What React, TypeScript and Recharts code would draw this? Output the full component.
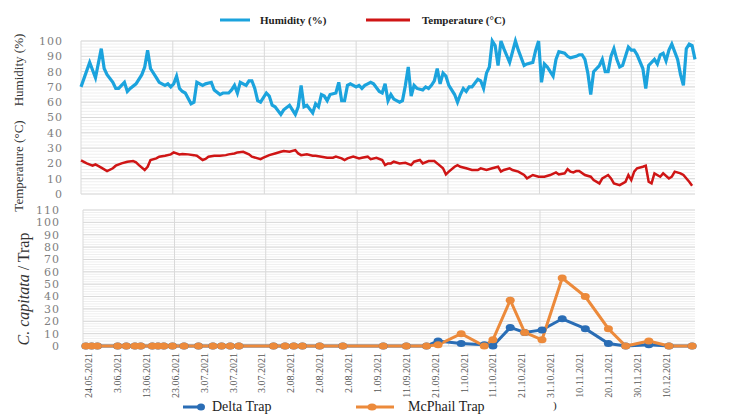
import { LineChart, Line, XAxis, YAxis, CartesianGrid } from 'recharts';

// day index counted from 24.05.2021, value
const humidityReadings: [number, number][] = [
  [-2, 70], [1, 86], [3, 76], [5, 95], [6, 82], [7, 78], [9, 73], [10, 69], [11, 69], [13, 73],
  [14, 67], [15, 69], [17, 72], [19, 78], [20, 83], [21, 94], [22, 82], [24, 76], [25, 73], [27, 71],
  [28, 72], [29, 70], [30, 72], [31, 77], [32, 69], [33, 67], [34, 66], [36, 59], [37, 60], [38, 73],
  [40, 71], [41, 72], [43, 73], [44, 68], [46, 65], [47, 66], [49, 66], [50, 68], [51, 71], [52, 66],
  [53, 73], [55, 71], [56, 74], [57, 74], [58, 69], [59, 61], [60, 60], [62, 66], [63, 64], [64, 58],
  [65, 57], [67, 52], [68, 55], [70, 58], [71, 55], [72, 52], [73, 57], [74, 71], [75, 57], [76, 58],
  [78, 53], [79, 59], [80, 57], [81, 65], [82, 64], [83, 61], [84, 65], [86, 66], [87, 73], [88, 61],
  [89, 61], [90, 71], [91, 72], [93, 70], [94, 71], [95, 69], [96, 71], [97, 72], [98, 73], [99, 72],
  [101, 67], [102, 66], [103, 72], [104, 61], [105, 65], [106, 62], [108, 60], [109, 61], [110, 71], [111, 83],
  [112, 64], [113, 71], [114, 69], [116, 68], [117, 70], [118, 69], [119, 71], [120, 74], [121, 82], [122, 72],
  [123, 79], [124, 77], [125, 71], [127, 65], [128, 60], [129, 65], [130, 69], [131, 67], [132, 70], [133, 70],
  [135, 75], [136, 74], [137, 69], [138, 79], [139, 83], [140, 100], [141, 97], [142, 84], [143, 100], [144, 95],
  [146, 86], [147, 93], [148, 100], [149, 94], [150, 89], [151, 84], [152, 85], [154, 86], [155, 94], [156, 100],
  [157, 73], [158, 85], [159, 83], [161, 77], [162, 88], [163, 93], [165, 92], [166, 90], [167, 89], [169, 90],
  [170, 91], [171, 91], [172, 88], [173, 79], [174, 65], [175, 80], [177, 84], [178, 88], [179, 80], [180, 80],
  [181, 90], [182, 95], [183, 88], [184, 83], [185, 84], [186, 90], [187, 96], [188, 94], [189, 94], [190, 91],
  [192, 82], [193, 69], [194, 84], [196, 88], [197, 85], [198, 91], [199, 92], [200, 87], [201, 94], [202, 98],
  [204, 88], [205, 78], [206, 71], [207, 95], [208, 98], [209, 97], [210, 88],
];

const temperatureReadings: [number, number][] = [
  [-2, 22], [0, 20], [2, 18.5], [3, 19.4], [5, 17.2], [7, 15], [9, 16.8], [10, 18.5], [12, 20], [14, 21.1],
  [16, 21.5], [17, 20.7], [18, 18.9], [20, 15.7], [21, 17.8], [22, 22.2], [24, 23.3], [25, 24.4], [27, 25], [29, 25.9],
  [30, 27.2], [32, 25.9], [33, 26.1], [35, 25.9], [37, 25.4], [38, 25], [40, 22.2], [41, 22.9], [42, 24.4], [44, 25],
  [46, 25], [48, 25.4], [49, 25.9], [51, 26.5], [52, 27.2], [54, 27.6], [56, 25.9], [57, 24.4], [60, 22.8], [61, 23.7],
  [63, 25.4], [65, 26.5], [67, 27.6], [68, 28.1], [70, 27.6], [72, 28.7], [73, 26.5], [74, 25.4], [76, 25.9], [78, 25],
  [79, 25], [81, 24.4], [83, 23.7], [85, 23.7], [86, 24.4], [88, 23.3], [89, 22.2], [90, 23.3], [92, 24.4], [94, 23.3],
  [95, 23.7], [97, 24.4], [98, 22.8], [100, 23.7], [102, 22.2], [103, 18.9], [104, 20], [105, 20], [106, 21.1], [108, 20],
  [110, 20.4], [112, 18.9], [113, 21.1], [115, 22.2], [116, 20], [118, 21.5], [120, 21.5], [121, 20], [123, 16.8], [124, 12.8],
  [125, 14.6], [127, 17.8], [128, 18.9], [129, 17.8], [131, 16.8], [133, 15.7], [135, 15.7], [136, 16.8], [138, 15.7], [140, 16.8],
  [142, 17.8], [143, 14.6], [144, 15.7], [146, 16.8], [147, 15.7], [149, 14.6], [151, 12.4], [152, 10.2], [154, 12.4], [156, 11.3],
  [158, 11.3], [160, 12.4], [162, 14.1], [163, 12.8], [165, 13.5], [166, 16.3], [167, 14.6], [168, 14.1], [169, 15], [170, 15],
  [172, 12.4], [174, 11.3], [175, 9.1], [177, 6.9], [178, 10.2], [180, 12.4], [181, 10.2], [182, 6.9], [184, 5.8], [186, 8],
  [187, 12.4], [188, 9.1], [189, 14.6], [190, 16.8], [192, 17.8], [193, 18.5], [194, 8], [195, 6.9], [196, 13.5], [198, 11.3],
  [199, 13.5], [201, 10.2], [202, 11.3], [203, 14.6], [205, 13.5], [206, 12.4], [208, 8], [209, 5.4],
];

const trapDays = [
  -1, 1, 3, 10, 13, 16, 18, 22, 24, 26, 29, 33, 38, 43, 46, 49, 52, 64, 68, 71,
  74, 80, 88, 102, 110, 117, 121, 129, 137, 140, 146, 151, 157, 164, 172, 180, 186, 194, 201, 209,
];
const deltaTrap = [
  0, 0, 0, 0, 0, 0, 0, 0, 0, 0, 0, 0, 0, 0, 0, 0, 0, 0, 0, 0,
  0, 0, 0, 0, 0, 0, 4, 2, 1, 0, 15, 11, 13, 22, 14, 2, 0, 1, 0, 0,
];
const mcphailTrap = [
  0, 0, 0, 0, 0, 0, 0, 0, 0, 0, 0, 0, 0, 0, 0, 0, 0, 0, 0, 0,
  0, 0, 0, 0, 0, 0, 1, 10, 0, 5, 37, 11, 5, 55, 40, 14, 0, 4, 0, 0,
];

const dateTicks = [0, 10, 20, 30, 40, 50, 60, 70, 80, 90, 100, 110, 120, 130, 140, 150, 160, 170, 180, 190, 200];
const dateLabels = [
  '24.05.2021', '3.06.2021', '13.06.2021', '23.06.2021', '3.07.2021', '3.07.2021', '3.07.2021',
  '2.08.2021', '2.08.2021', '2.08.2021', '1.09.2021', '11.09.2021', '21.09.2021', '1.10.2021',
  '11.10.2021', '21.10.2021', '31.10.2021', '10.11.2021', '20.11.2021', '30.11.2021', '10.12.2021',
];
const topTicks = [0, 10, 20, 30, 40, 50, 60, 70, 80, 90, 100];
const bottomTicks = [0, 10, 20, 30, 40, 50, 60, 70, 80, 90, 100, 110];
const monthGrid = [-2, 29.7, 61.3, 93, 124.7, 156.3, 188];

const humidity = humidityReadings.map(([day, v]) => ({ day, v }));
const temperature = temperatureReadings.map(([day, v]) => ({ day, v }));
const traps = trapDays.map((day, i) => ({ day, delta: deltaTrap[i], mcphail: mcphailTrap[i] }));
const minorTop = Array.from({ length: 51 }, (_, i) => i * 2);
const minorBottom = Array.from({ length: 56 }, (_, i) => i * 2);

const BLUE = '#1ba3dd';
const RED = '#cf1515';
const DELTA = '#2a6db5';
const MCPHAIL = '#ec8a3b';
const SERIF = "'Liberation Serif', 'Times New Roman', serif";

const tickStyle = { fontSize: 11, fill: '#808080', fontFamily: "'DejaVu Serif', serif", letterSpacing: 1 };

function DateTick({ x, y, payload }: any) {
  const label = dateLabels[dateTicks.indexOf(payload.value)];
  return (
    <text
      x={x}
      y={y}
      transform={`rotate(-90 ${x} ${y})`}
      textAnchor="end"
      dominantBaseline="central"
      fontSize={10}
      fill="#555"
      style={{ fontFamily: SERIF }}
    >
      {label}
    </text>
  );
}

function trapDot(color: string) {
  return (p: any) => (
    <ellipse key={`${color}-${p.index}`} cx={p.cx} cy={p.cy} rx={4.5} ry={3.5} fill={color} />
  );
}

export default function App() {
  return (
    <div style={{ position: 'absolute', left: 0, top: 0, width: 740, height: 414, background: '#fff', overflow: 'hidden' }}>
      <div style={{ position: 'absolute', left: 0, top: 0 }}>
        <LineChart width={740} height={200} margin={{ top: 41, right: 5, bottom: 6, left: 31 }}>
          <CartesianGrid yAxisId="l" horizontalValues={minorTop} vertical={false} stroke="#efefef" />
          <CartesianGrid yAxisId="l" horizontalValues={topTicks} verticalValues={monthGrid} stroke="#d9d9d9" />
          <XAxis type="number" dataKey="day" domain={[-2, 210]} hide allowDuplicatedCategory={false} />
          <YAxis yAxisId="l" domain={[0, 100]} ticks={topTicks} width={50} axisLine={false} tickLine={false}
            tickSize={6} tickMargin={12} tick={tickStyle} interval={0} />
          <YAxis yAxisId="r" orientation="right" domain={[0, 100]} ticks={topTicks} width={40} axisLine={false}
            tickLine={false} tickSize={6} tickMargin={12} tick={{ ...tickStyle, textAnchor: 'start' }} interval={0} />
          <Line yAxisId="l" data={temperature} dataKey="v" type="linear" stroke={RED} strokeWidth={2.5}
            dot={false} isAnimationActive={false} />
          <Line yAxisId="l" data={humidity} dataKey="v" type="linear" stroke={BLUE} strokeWidth={3.2}
            dot={false} isAnimationActive={false} />
        </LineChart>
      </div>

      <div style={{ position: 'absolute', left: 0, top: 200 }}>
        <LineChart width={740} height={214} data={traps} margin={{ top: 10, right: 5, bottom: 18, left: 33 }}>
          <CartesianGrid yAxisId="l" horizontalValues={minorBottom} vertical={false} stroke="#efefef" />
          <CartesianGrid yAxisId="l" horizontalValues={bottomTicks} verticalValues={monthGrid} stroke="#d9d9d9" />
          <XAxis type="number" dataKey="day" domain={[-2, 210]} ticks={dateTicks} interval={0} height={50}
            axisLine={false} tickLine={false} tickSize={6} tickMargin={1} tick={<DateTick />} />
          <YAxis yAxisId="l" domain={[0, 110]} ticks={bottomTicks} width={50} axisLine={false} tickLine={false}
            tickSize={6} tickMargin={17} tick={tickStyle} interval={0} />
          <YAxis yAxisId="r" orientation="right" domain={[0, 110]} ticks={bottomTicks} width={40} axisLine={false}
            tickLine={false} tickSize={6} tickMargin={12} tick={{ ...tickStyle, textAnchor: 'start' }} interval={0} />
          <Line yAxisId="l" dataKey="delta" type="linear" stroke={DELTA} strokeWidth={3}
            dot={trapDot(DELTA)} isAnimationActive={false} />
          <Line yAxisId="l" dataKey="mcphail" type="linear" stroke={MCPHAIL} strokeWidth={3}
            dot={trapDot(MCPHAIL)} isAnimationActive={false} />
        </LineChart>
      </div>

      <svg width={740} height={414} style={{ position: 'absolute', left: 0, top: 0, pointerEvents: 'none' }}>
        {/* top legend */}
        <line x1={220} y1={20} x2={250} y2={20} stroke={BLUE} strokeWidth={3} />
        <text x={260} y={20} dominantBaseline="central" fontSize={11} fontWeight="bold" style={{ fontFamily: SERIF }} fill="#222">
          Humidity (%)
        </text>
        <line x1={366} y1={20} x2={410} y2={20} stroke={RED} strokeWidth={3} />
        <text x={422} y={20} dominantBaseline="central" fontSize={11} fontWeight="bold" style={{ fontFamily: SERIF }} fill="#222">
          Temperature (°C)
        </text>

        {/* axis titles */}
        <text transform="translate(18,70) rotate(-90)" textAnchor="middle" dominantBaseline="central"
          fontSize={13} style={{ fontFamily: SERIF }} fill="#333">Humidity (%)</text>
        <text transform="translate(18,166) rotate(-90)" textAnchor="middle" dominantBaseline="central"
          fontSize={13} style={{ fontFamily: SERIF }} fill="#333">Temperature (°C)</text>
        <text transform="translate(23,289) rotate(-90)" textAnchor="middle" dominantBaseline="central"
          fontSize={16} style={{ fontFamily: SERIF }} fill="#333">
          <tspan fontStyle="italic">C. capitata</tspan> / Trap
        </text>

        {/* bottom legend */}
        <line x1={183} y1={407} x2={203} y2={407} stroke={DELTA} strokeWidth={3} />
        <ellipse cx={201} cy={407} rx={4} ry={3.5} fill={DELTA} />
        <text x={212} y={406} dominantBaseline="central" fontSize={14} style={{ fontFamily: SERIF }} fill="#222">
          Delta Trap
        </text>
        <line x1={356} y1={407} x2={394} y2={407} stroke={MCPHAIL} strokeWidth={3} />
        <ellipse cx={372} cy={407} rx={4.5} ry={3.5} fill={MCPHAIL} />
        <text x={408} y={406} dominantBaseline="central" fontSize={14} style={{ fontFamily: SERIF }} fill="#222">
          McPhail Trap
        </text>
        <text x={553} y={405} dominantBaseline="central" fontSize={11} style={{ fontFamily: SERIF }} fill="#222">)</text>
      </svg>
    </div>
  );
}
